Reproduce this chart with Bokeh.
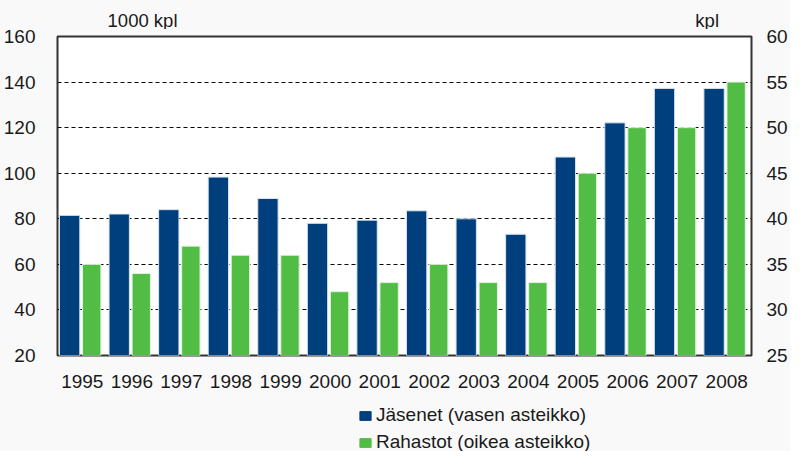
from bokeh.plotting import figure
from bokeh.layouts import column
from bokeh.models import (ColumnDataSource, FactorRange, Range1d, LinearAxis,
                          SingleIntervalTicker, Legend, LegendItem, Label)
from bokeh.transform import dodge
from bokeh.embed import file_html
from bokeh.resources import INLINE

years = ["1995", "1996", "1997", "1998", "1999", "2000", "2001", "2002",
         "2003", "2004", "2005", "2006", "2007", "2008"]
jasenet = [81.5, 82.1, 84.0, 98.3, 88.9, 78.0, 79.4, 83.5, 80.0, 73.2,
           107.1, 122.1, 137.2, 137.2]
rahastot = [35, 34, 37, 36, 36, 32, 33, 35, 33, 33, 45, 50, 50, 55]

left_label = "1000 kpl"
right_label = "kpl"
series_names = ["Jäsenet (vasen asteikko)", "Rahastot (oikea asteikko)"]

BLUE = "#003f7d"
GREEN = "#52bd45"
FONT = "Liberation Sans"
FS = "19px"
TXT = "#1a1a1a"
BG = "#f9f9f9"
W = 790


def blank(h):
    f = figure(width=W, height=h, x_range=Range1d(0, W), y_range=Range1d(0, h),
               output_backend="svg", toolbar_location=None, min_border=0,
               x_axis_location=None, y_axis_location=None)
    f.grid.visible = False
    f.outline_line_color = None
    f.background_fill_color = BG
    f.border_fill_color = BG
    return f


# header with unit captions
head = blank(29)
head.add_layout(Label(x=57, y=9, text=left_label, text_align="left",
                      text_baseline="middle", text_font=FONT, text_font_size="18.5px",
                      text_color=TXT))
head.add_layout(Label(x=753, y=9, text=right_label, text_align="right",
                      text_baseline="middle", text_font=FONT, text_font_size="18.5px",
                      text_color=TXT))

# main chart
src = ColumnDataSource(dict(year=years, jasenet=jasenet, rahastot=rahastot))
p = figure(x_range=FactorRange(*years), y_range=Range1d(20, 160),
           width=W, height=362, output_backend="svg", toolbar_location=None,
           min_border_left=57, min_border_right=37, min_border_top=7,
           min_border_bottom=36)
p.extra_y_ranges = {"right": Range1d(25, 60)}
p.background_fill_color = "white"
p.border_fill_color = BG
p.outline_line_color = "#333333"
p.outline_line_width = 2

p.vbar(x=dodge("year", -0.255, range=p.x_range), top="jasenet", bottom=20,
       width=0.41, source=src, fill_color=BLUE, line_color="#d8e4ef", line_width=1)
p.vbar(x=dodge("year", 0.19, range=p.x_range), top="rahastot", bottom=25,
       width=0.37, source=src, fill_color=GREEN, line_color="#e0f2dc", line_width=1,
       y_range_name="right")

bx = p.xaxis[0]
lx = p.yaxis[0]
p.yaxis.ticker = SingleIntervalTicker(interval=20)
ax_r = LinearAxis(y_range_name="right", ticker=SingleIntervalTicker(interval=5))
p.add_layout(ax_r, "right")

for ax in [lx, ax_r, bx]:
    ax.axis_line_color = None
    ax.major_tick_line_color = None
    ax.minor_tick_line_color = None
    ax.major_label_text_font = FONT
    ax.major_label_text_font_size = FS
    ax.major_label_text_color = TXT
lx.major_label_standoff = 16
ax_r.major_label_standoff = 9
bx.major_label_standoff = 13

p.xgrid.grid_line_color = None
p.ygrid.grid_line_color = "black"
p.ygrid.grid_line_dash = "4 3"
p.ygrid.grid_line_width = 1

# footer with legend (swatch renderers lie outside the visible range)
foot = blank(60)
d1 = foot.vbar(x=[-50], top=[-50], bottom=[-60], width=1, fill_color=BLUE, line_color=BLUE)
d2 = foot.vbar(x=[-50], top=[-50], bottom=[-60], width=1, fill_color=GREEN, line_color=GREEN)
legend = Legend(items=[LegendItem(label=series_names[0], renderers=[d1]),
                       LegendItem(label=series_names[1], renderers=[d2])],
                orientation="vertical", location=(301, -2))
legend.background_fill_alpha = 0
legend.border_line_color = None
legend.label_text_font = FONT
legend.label_text_font_size = FS
legend.label_text_color = TXT
legend.glyph_width = 14
legend.glyph_height = 11
legend.label_height = 22
legend.spacing = 5
legend.padding = 0
legend.margin = 0
legend.label_standoff = 4
foot.add_layout(legend, "center")

layout = column(head, p, foot, spacing=0, styles={"background-color": BG})
open("out.html", "w").write(file_html(layout, INLINE))
